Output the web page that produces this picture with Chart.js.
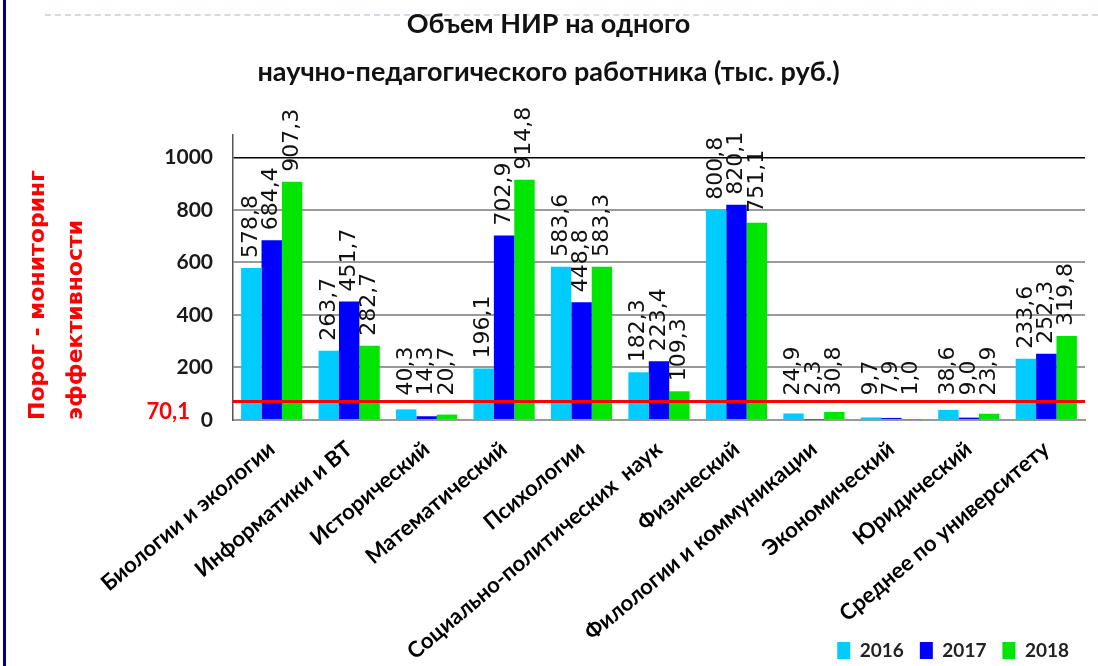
<!DOCTYPE html>
<html>
<head>
<meta charset="utf-8">
<script src="https://cdn.jsdelivr.net/npm/chart.js@4.4.1/dist/chart.umd.min.js"></script>
<style>
  html, body { margin: 0; padding: 0; background: #fff; }
  #wrap { position: relative; width: 1098px; height: 666px; overflow: hidden; }
  #edge { position: absolute; left: 3px; top: 0; width: 3px; height: 666px; background: #00007a; }
  #dash { position: absolute; left: 45px; right: 0; top: 14px; border-top: 2px dashed #d3dae4; }
  #box { position: absolute; left: 0; top: 0; width: 1098px; height: 666px; }
</style>
</head>
<body>
<div id="wrap">
  <div id="edge"></div>
  <div id="dash"></div>
  <div id="box"><canvas id="nirChart"></canvas></div>
</div>
<script>
const categories = [
  'Биологии и экологии',
  'Информатики и ВТ',
  'Исторический',
  'Математический',
  'Психологии',
  'Социально-политических  наук',
  'Физический',
  'Филологии и коммуникации',
  'Экономический',
  'Юридический',
  'Среднее по университету'
];
const years = ['2016', '2017', '2018'];
const values2016 = [578.8, 263.7, 40.3, 196.1, 583.6, 182.3, 800.8, 24.9, 9.7, 38.6, 233.6];
const values2017 = [684.4, 451.7, 14.3, 702.9, 448.8, 223.4, 820.1, 2.3, 7.9, 9.0, 252.3];
const values2018 = [907.3, 282.7, 20.7, 914.8, 583.3, 109.3, 751.1, 30.8, 1.0, 23.9, 319.8];
const threshold = 70.1;
const yTicks = [0, 200, 400, 600, 800, 1000];

const fmt = v => v.toFixed(1).replace('.', ',');

// red threshold line + its label, then value labels on top of the bars
const overlay = {
  id: 'overlay',
  afterDatasetsDraw(chart) {
    const ctx = chart.ctx, area = chart.chartArea, y = chart.scales.y;
    const ty = y.getPixelForValue(threshold);

    ctx.save();
    ctx.strokeStyle = '#ff0000';
    ctx.lineWidth = 3;
    ctx.beginPath();
    ctx.moveTo(area.left, ty);
    ctx.lineTo(area.right, ty);
    ctx.stroke();

    ctx.fillStyle = '#ff0000';
    ctx.font = 'bold 22px Lato';
    ctx.textAlign = 'right';
    ctx.textBaseline = 'middle';
    ctx.fillText(fmt(threshold), 190, ty + 10);

    ctx.fillStyle = '#111';
    ctx.font = '22px "DejaVu Sans"';
    ctx.textAlign = 'left';
    chart.data.datasets.forEach((ds, i) => {
      chart.getDatasetMeta(i).data.forEach((bar, j) => {
        const py = Math.min(bar.y - 10, ty - 6);
        ctx.save();
        ctx.translate(bar.x, py);
        ctx.rotate(-Math.PI / 2);
        ctx.fillText(fmt(ds.data[j]), 0, 0);
        ctx.restore();
      });
    });
    ctx.restore();
  }
};

new Chart(document.getElementById('nirChart'), {
  type: 'bar',
  data: {
    labels: categories,
    datasets: [
      { label: years[0], data: values2016, backgroundColor: '#00ccff' },
      { label: years[1], data: values2017, backgroundColor: '#0000ff' },
      { label: years[2], data: values2018, backgroundColor: '#00e600' }
    ]
  },
  options: {
    responsive: true,
    maintainAspectRatio: false,
    animation: false,
    layout: { padding: { left: 12, right: 13, top: 0, bottom: -4 } },
    datasets: { bar: { categoryPercentage: 0.79, barPercentage: 1.0 } },
    plugins: {
      title: {
        display: true,
        text: ['Объем НИР на одного', 'научно-педагогического работника (тыс. руб.)'],
        color: '#111',
        font: { family: 'Lato', size: 27, weight: 'bold', lineHeight: 1.78 },
        padding: { top: 0, bottom: 39 }
      },
      legend: {
        position: 'bottom',
        align: 'end',
        labels: {
          color: '#222',
          boxWidth: 13,
          boxHeight: 17,
          padding: 16,
          font: { family: 'Lato', size: 19, weight: 'bold' }
        }
      },
      tooltip: { enabled: false }
    },
    scales: {
      x: {
        grid: { display: false },
        border: { display: true, color: '#999', width: 2 },
        ticks: {
          color: '#000',
          maxRotation: 40,
          minRotation: 40,
          autoSkip: false,
          padding: 8,
          font: { family: 'Lato', size: 22, weight: 'bold' }
        },
        afterFit: s => {
          s.height = 205;
          // long rotated labels run down past the legend's top, as in the source
          s._computeLabelArea = () => null;
        }
      },
      y: {
        min: 0,
        max: 1085,
        afterBuildTicks: s => { s.ticks = yTicks.map(v => ({ value: v })); },
        border: { display: true, color: '#555', width: 1.5 },
        grid: {
          drawTicks: false,
          color: c => c.tick && c.tick.value === 1000 ? '#000' : '#999',
          lineWidth: c => c.tick && c.tick.value === 1000 ? 1.5 : 2
        },
        ticks: {
          color: '#1a1a1a',
          padding: 20,
          callback: v => String(v),
          font: { family: 'Lato', size: 21, weight: 'bold' }
        },
        title: {
          display: true,
          text: ['Порог - мониторинг', 'эффективности'],
          color: '#ff0000',
          align: 'start',
          font: { family: 'DejaVu Sans', size: 22, weight: 'bold', lineHeight: 1.7 },
          padding: { top: 8, bottom: 0 }
        },
        afterFit: s => { s.width = 221; }
      }
    }
  },
  plugins: [overlay]
});
</script>
</body>
</html>
